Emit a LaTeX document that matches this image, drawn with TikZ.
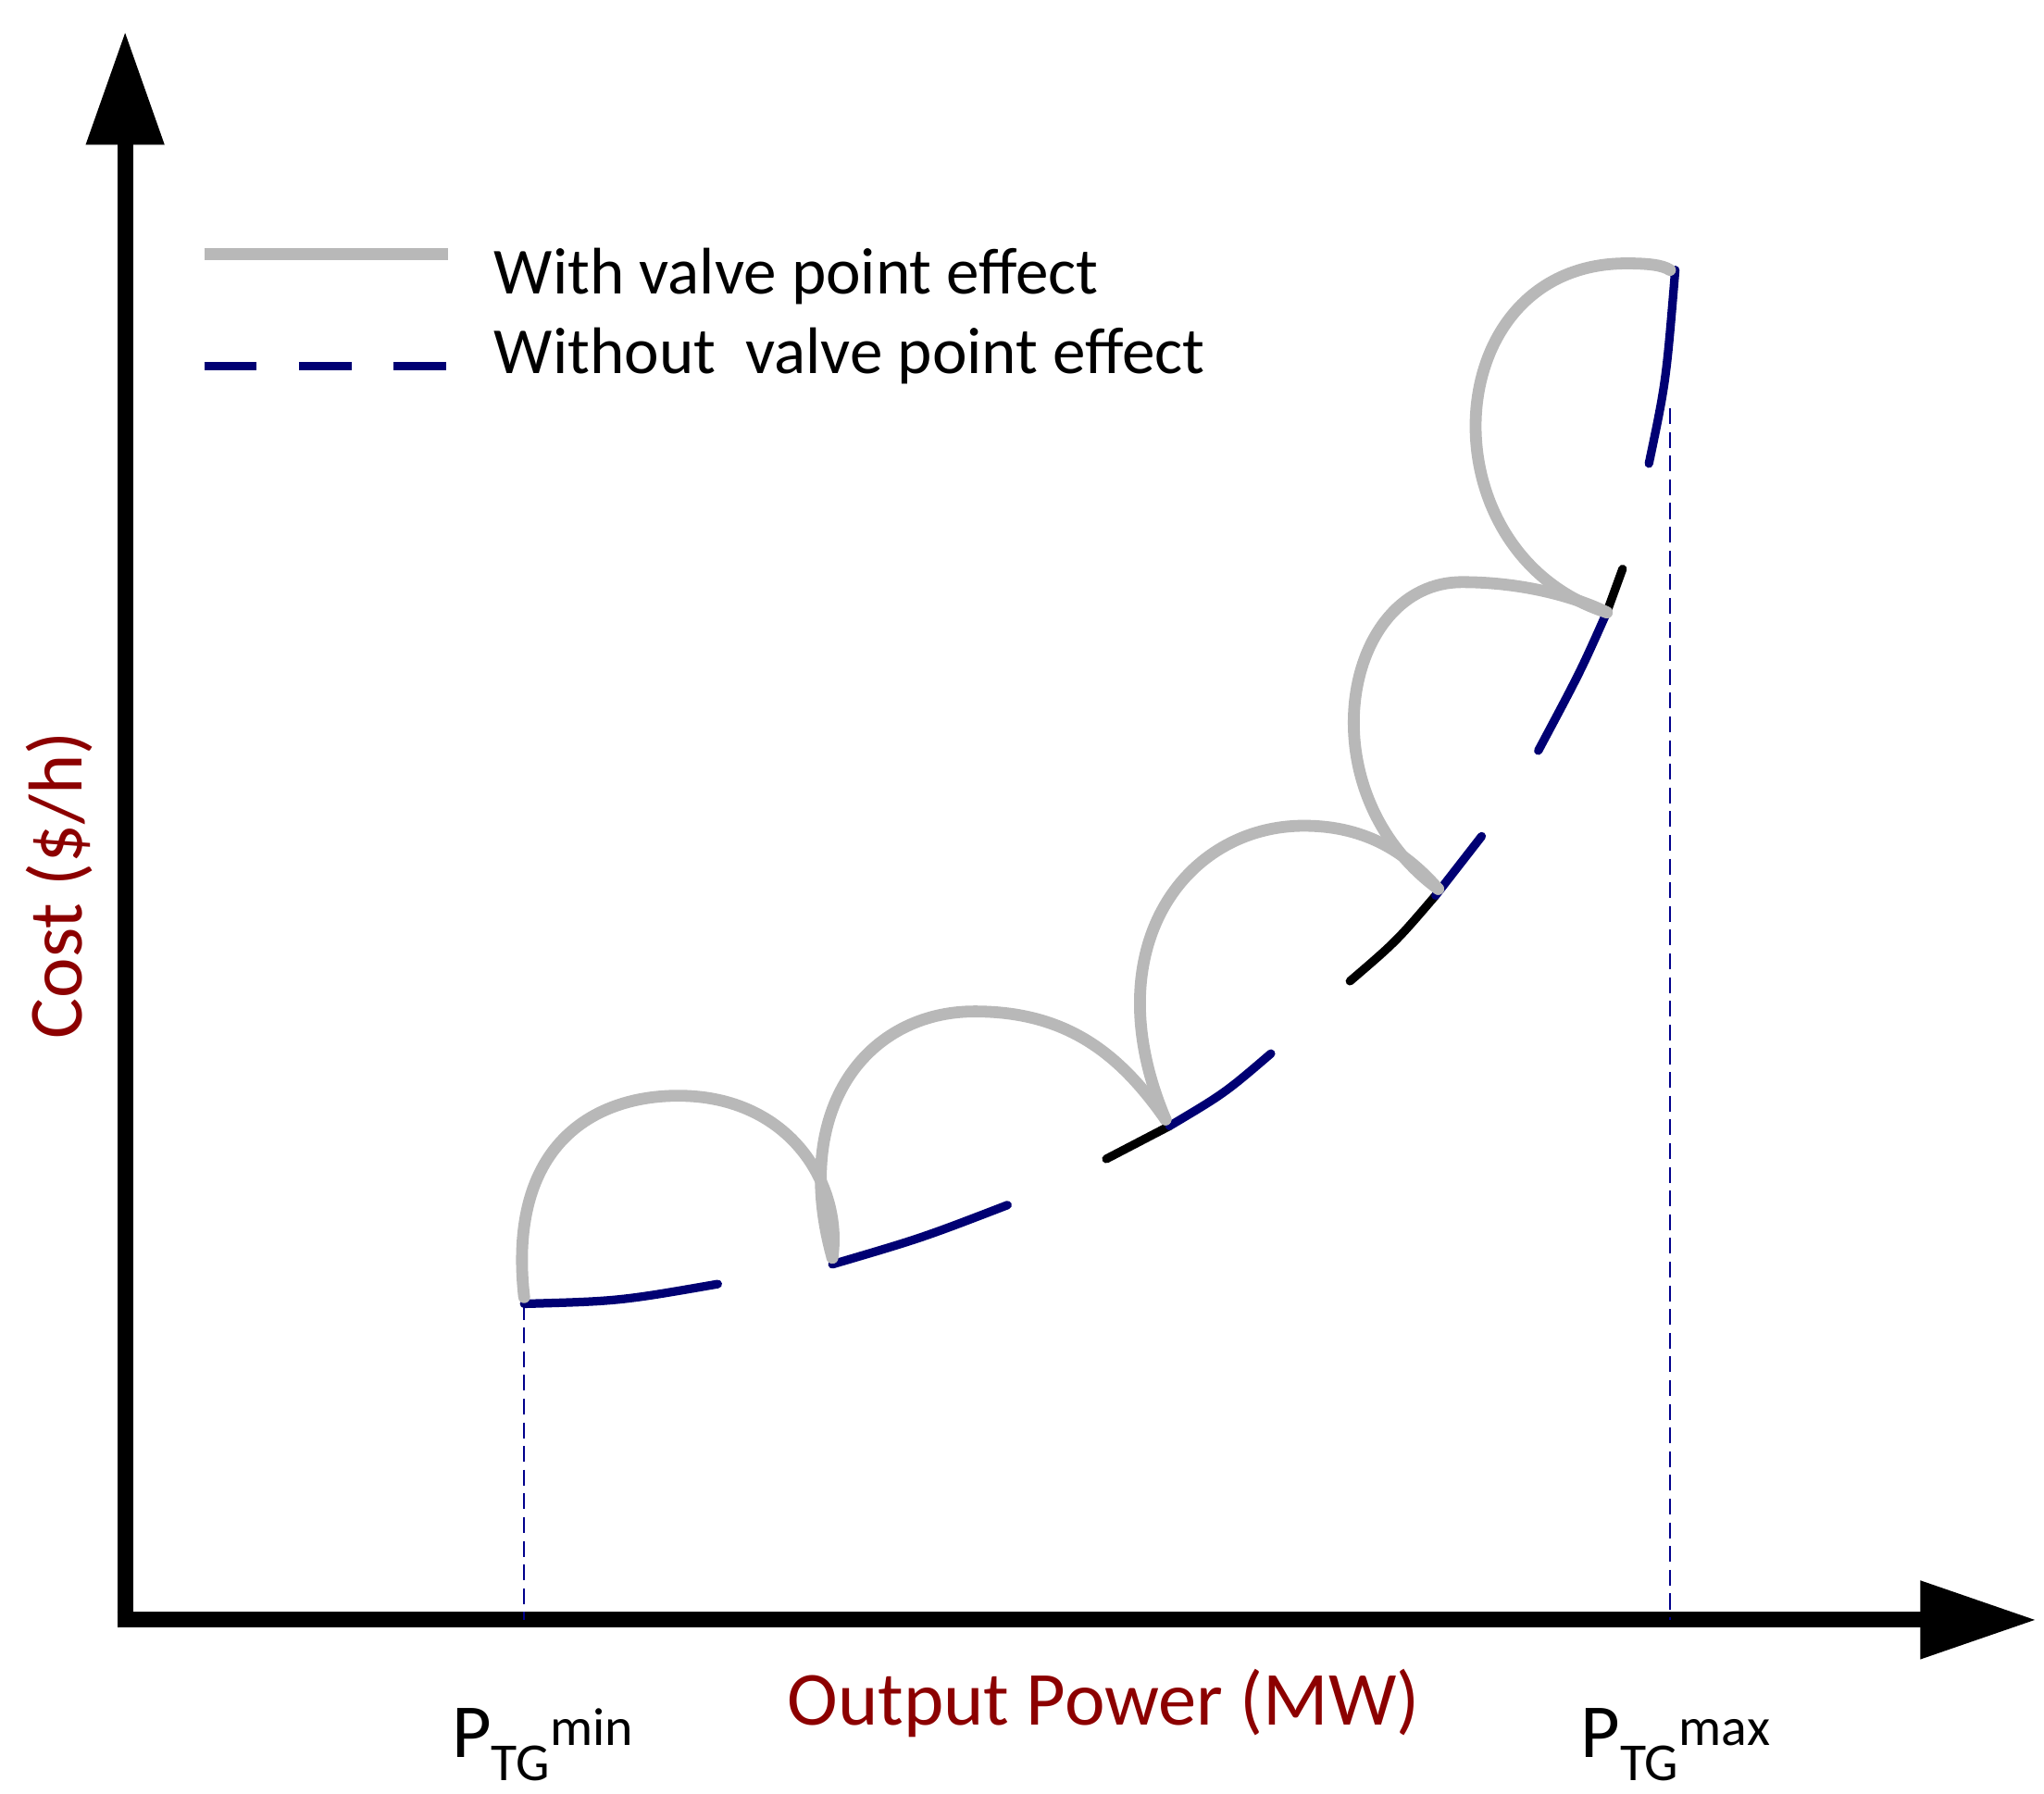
\documentclass[tikz,border=0pt]{standalone}
\usepackage{fontspec}
\setmainfont{Carlito}
\begin{document}
\begin{tikzpicture}[x=1pt,y=-1pt,
  vpe/.style={line width=9pt,color=black!28,line cap=round},
  nvpe/.style={line width=6.5pt,color=blue!45!black,line cap=round},
  blk/.style={line width=6.5pt,color=black,line cap=round},
  guide/.style={line width=1.3pt,color=blue!55!black,dash pattern=on 12pt off 6pt},
  lab/.style={font=\fontsize{50}{60}\selectfont,inner sep=0pt},
  big/.style={font=\fontsize{58}{68}\selectfont,inner sep=0pt},
  redlab/.style={big,text=red!55!black}]
\useasboundingbox (0,0) rectangle (1552,1362);
% axes
\coordinate (O) at (95,1230);
\coordinate (Ytop) at (95,105);
\coordinate (Xend) at (1465,1230);
\draw[line width=12pt] (95,1236) -- (Ytop);
\draw[line width=12pt] (89,1230) -- (Xend);
\fill (65,110) -- (95,25) -- (125,110) -- cycle;
\fill (1458,1200) -- (1545,1230) -- (1458,1260) -- cycle;
% guides
\draw[guide] (398,990) -- (398,1230);
\draw[guide] (1268,310) -- (1268,1230);
% legend
\draw[line width=9pt,color=black!28] (155,193) -- (340,193);
\draw[line width=6.5pt,color=blue!45!black,dash pattern=on 40pt off 32pt] (155,278) -- (340,278);
\node[lab,anchor=west] (l1) at (375,210) {With valve point effect};
\node[lab,anchor=west] (l2) at (375,270) {Without\ \ valve point effect};
% without valve point (dashed quadratic)
\draw[nvpe] (398,990) .. controls (470,988) .. (545,975);
\draw[nvpe] (632,960) .. controls (700,940) .. (765,915);
\draw[blk] (840,880) -- (888,855);
\draw[nvpe] (888,855) .. controls (930,830) .. (965,800);
\draw[blk] (1025,745) .. controls (1060,715) .. (1090,680);
\draw[nvpe] (1090,680) -- (1125,635);
\draw[nvpe] (1168,570) .. controls (1200,510) .. (1220,465);
\draw[blk] (1220,465) -- (1232,432);
\draw[nvpe] (1252,352) .. controls (1265,290) .. (1272,205);
% with valve point
\draw[vpe] (398,985) .. controls (385,870) and (450,832) .. (515,832) .. controls (600,832) and (640,900) .. (632,955);
\draw[vpe] (632,955) .. controls (600,840) and (660,768) .. (740,768) .. controls (810,768) and (850,800) .. (885,850);
\draw[vpe] (885,850) .. controls (830,720) and (900,627) .. (990,627) .. controls (1040,627) and (1070,650) .. (1092,675);
\draw[vpe] (1092,675) .. controls (990,600) and (1020,442) .. (1110,442) .. controls (1160,442) and (1200,455) .. (1220,465);
\draw[vpe] (1220,465) .. controls (1080,420) and (1090,200) .. (1235,200) .. controls (1250,200) and (1262,201) .. (1268,205);
% labels
\node[redlab,rotate=90] (yl) at (45,672) {Cost (\$/h)};
\node[redlab] (xl) at (838,1293) {Output Power (MW)};
\node[big,anchor=west] (pmin) at (343,1325) {P\textsubscript{TG}\textsuperscript{min}};
\node[big,anchor=west] (pmax) at (1200,1325) {P\textsubscript{TG}\textsuperscript{max}};
\end{tikzpicture}
\end{document}
